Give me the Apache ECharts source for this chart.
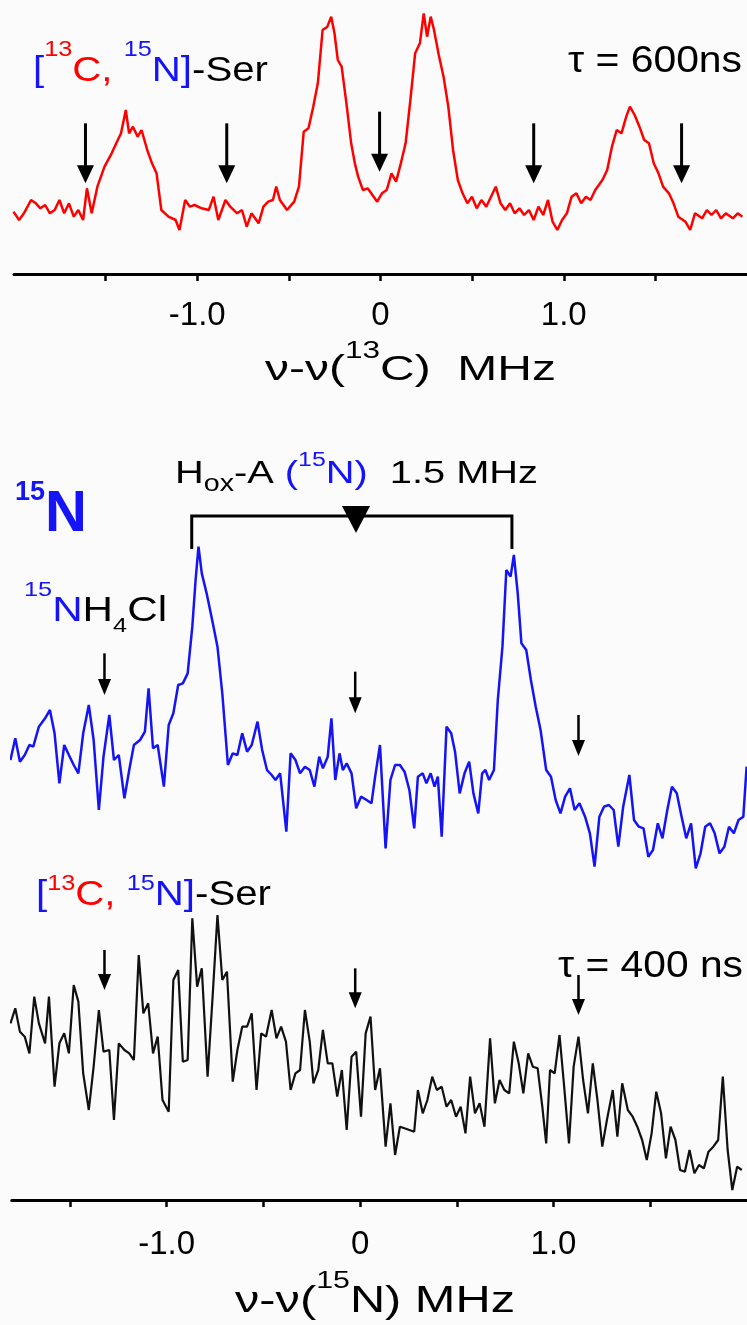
<!DOCTYPE html>
<html><head><meta charset="utf-8">
<script src="https://cdn.jsdelivr.net/npm/echarts@6/dist/echarts.min.js"></script>
<style>html,body{margin:0;padding:0;background:#fbfbfb}#c{width:747px;height:1325px}</style>
</head><body><div id="c"></div>
<script>
// ---- Data (frequency offset in MHz, intensity in arbitrary units) ----
const redX = [-2.003,-1.972,-1.946,-1.907,-1.881,-1.856,-1.830,-1.804,-1.778,-1.752,-1.726,-1.700,-1.674,-1.649,-1.623,-1.602,-1.576,-1.545,-1.506,-1.467,-1.442,-1.416,-1.390,-1.372,-1.351,-1.325,-1.304,-1.273,-1.247,-1.222,-1.196,-1.157,-1.118,-1.097,-1.066,-1.040,-1.015,-0.976,-0.937,-0.911,-0.885,-0.846,-0.820,-0.782,-0.756,-0.730,-0.704,-0.665,-0.639,-0.613,-0.587,-0.569,-0.549,-0.510,-0.471,-0.445,-0.419,-0.393,-0.367,-0.342,-0.316,-0.290,-0.269,-0.251,-0.233,-0.212,-0.186,-0.160,-0.140,-0.122,-0.096,-0.070,-0.044,-0.018,0.008,0.034,0.060,0.085,0.111,0.137,0.163,0.189,0.215,0.236,0.254,0.274,0.292,0.318,0.344,0.370,0.396,0.422,0.448,0.474,0.499,0.525,0.551,0.577,0.603,0.629,0.655,0.681,0.707,0.732,0.758,0.784,0.810,0.836,0.862,0.888,0.914,0.939,0.965,0.991,1.017,1.043,1.069,1.095,1.121,1.146,1.172,1.211,1.237,1.263,1.289,1.315,1.341,1.361,1.387,1.413,1.439,1.465,1.491,1.517,1.542,1.574,1.599,1.625,1.664,1.690,1.716,1.755,1.781,1.806,1.832,1.858,1.884,1.923,1.949,1.975];
const redY = [26.5,24,26,30,29,27.5,28.5,26,27,30,26,29,25,27,24,33.5,26,34,40,44,47,50,57,50,52,49,51,45,41,38,27,25,24,21,30,28,28.5,27.5,27,31,24,30,28,26,27,22,26,23,28,29.5,30,34,30,27,29.5,34,50.5,51.5,58,65,81,82,85,80,72,70,59,47,41,37,33,33.5,31.5,29.5,32,33,38,35.5,41,47,60,74,77,86,79,85,81,73.5,67,58,45,36,32,29,31,27.5,30,28,31,34,29,27,29,26,27.5,25.5,27,24,28,25.5,30,23.5,21,24,26,31,32,29,31,30,33,36,39,46,51,50,55,58,55.5,52,48,47,41,38,34,32,29,25,23.5,21,26,24.5,27,25.5,27,24.5,26,24.5,26,25];

const blueX = [-1.807,-1.782,-1.758,-1.733,-1.709,-1.689,-1.660,-1.628,-1.603,-1.579,-1.554,-1.529,-1.505,-1.480,-1.456,-1.431,-1.402,-1.377,-1.350,-1.326,-1.296,-1.272,-1.247,-1.218,-1.193,-1.169,-1.137,-1.112,-1.093,-1.070,-1.046,-1.014,-0.989,-0.965,-0.940,-0.916,-0.891,-0.867,-0.850,-0.835,-0.818,-0.793,-0.761,-0.737,-0.712,-0.683,-0.658,-0.634,-0.609,-0.584,-0.560,-0.530,-0.506,-0.481,-0.457,-0.437,-0.413,-0.381,-0.359,-0.334,-0.310,-0.285,-0.260,-0.236,-0.211,-0.192,-0.167,-0.148,-0.128,-0.106,-0.089,-0.069,-0.044,-0.020,0.005,0.034,0.059,0.078,0.103,0.132,0.157,0.181,0.206,0.230,0.255,0.280,0.299,0.324,0.343,0.365,0.385,0.402,0.422,0.447,0.471,0.491,0.515,0.540,0.564,0.586,0.611,0.631,0.648,0.667,0.692,0.712,0.736,0.756,0.778,0.795,0.815,0.834,0.859,0.883,0.908,0.933,0.962,0.987,1.011,1.036,1.060,1.085,1.109,1.134,1.163,1.188,1.212,1.237,1.261,1.286,1.311,1.335,1.360,1.392,1.416,1.441,1.465,1.490,1.514,1.539,1.563,1.588,1.612,1.637,1.662,1.686,1.711,1.735,1.760,1.784,1.809,1.833,1.858,1.883,1.907,1.932,1.956,1.981,1.998];
const blueY = [44,50.5,43.5,45.5,48.5,48,54,56.5,59,52,37,48.5,45.5,42.5,40,52,60.5,50,29,45,57.5,44,45.5,32.5,41,48.5,50,52.5,65.5,47.5,48.5,36,54.5,58,66.5,67,70,84,98,108,100,94,85,78,64,42.5,46,45.5,52,46.5,48.5,55.5,47,41,39.5,38,40,22.5,46,44,40,42,41,36,45,41.5,45,56.5,38,46,41,43,40,29.5,33,32,31,39,48.5,17.5,38,42.5,42.5,40.5,35,23.5,39,40,37,40,36,39,21,54,52,46.5,34,40,43.5,34,28,40,41,38,41,62,78,101,99,105.5,94,79,77,68,60,53,41,39,32,28,33,35.5,29,31,27,22,12,27,30,30.5,29,18,30,39.5,26,24,23.5,15,17,25,20.5,29,36,34,27,20.5,25,11.5,16,24,25,22,16,18,24,22,26,27,42];

const blackX = [-1.807,-1.782,-1.758,-1.733,-1.709,-1.684,-1.660,-1.628,-1.608,-1.579,-1.554,-1.529,-1.505,-1.480,-1.456,-1.431,-1.402,-1.377,-1.350,-1.326,-1.296,-1.272,-1.247,-1.218,-1.193,-1.169,-1.144,-1.120,-1.095,-1.070,-1.046,-1.021,-0.989,-0.965,-0.940,-0.916,-0.891,-0.867,-0.842,-0.818,-0.788,-0.761,-0.737,-0.712,-0.688,-0.658,-0.634,-0.609,-0.584,-0.560,-0.535,-0.511,-0.486,-0.457,-0.432,-0.408,-0.383,-0.359,-0.334,-0.310,-0.285,-0.260,-0.241,-0.216,-0.192,-0.167,-0.143,-0.118,-0.094,-0.069,-0.044,-0.020,0.005,0.029,0.054,0.078,0.103,0.132,0.157,0.181,0.206,0.230,0.255,0.280,0.299,0.324,0.348,0.373,0.397,0.422,0.447,0.471,0.496,0.520,0.545,0.569,0.594,0.618,0.643,0.672,0.697,0.721,0.746,0.771,0.795,0.820,0.844,0.869,0.893,0.918,0.942,0.962,0.982,1.006,1.031,1.055,1.080,1.104,1.129,1.153,1.178,1.203,1.227,1.252,1.276,1.306,1.330,1.355,1.384,1.409,1.433,1.458,1.482,1.507,1.531,1.556,1.581,1.605,1.630,1.654,1.679,1.703,1.728,1.752,1.777,1.801,1.826,1.851,1.875,1.900,1.924,1.949,1.973];
const blackY = [61,65.5,58.5,57,52,69,61,55,69,42,55,58,52,72.5,67.5,46,35,48,65,52.5,53,32,55,53,52,50,81.5,64,67,52,57,38,34.5,74,77,49.5,50,92.5,72,77.5,45,70,93.5,74,76.5,43.5,53,60,60,64,41,58,57,65,56.5,60,55.5,41,46,47,65,55.5,43,47,59,49,49,39,47,29,51,52.5,33,58,63,41,47.5,24,37,21.5,30,29.5,29,28.5,41,34,38,45,41,42,36,38,33,36,28,45,34,37,30,56.5,37,44,41,40,55.5,49,40,52,48,47.5,36,25,47,46,57.5,42,25,48,57,44,34,49,38,24,32,41,27,43,35,33,30,26,20,28,40.5,34,20.5,30,26,17,16.5,23,16,18.5,17.5,22.5,24,26,45,23,11,18,17];

// axis ticks / labels (MHz)
const tickValues = [-1.5, -1.0, -0.5, 0, 0.5, 1.0, 1.5];
const tickLabelValues = [-1.0, 0, 1.0];

// arrow annotations: [x (MHz), intensity at tail, intensity at tip]
const arrowsTop = [[-1.61,53,35],[-0.839,53,35],[-0.005,56.5,38.5],[0.836,53,35],[1.643,53,35]];
const arrowsMid = [[-1.321,76,63.5],[-0.025,70.5,58],[1.129,57.5,45.2]];
const arrowsBot = [[-1.321,83,71],[-0.025,77.5,65.5],[1.129,75.5,63.5]];
// hyperfine bracket (MHz / intensity)
const bracketX = [-0.87, 0.785];
const bracketY = [117.2, 107.3];
const bracketMark = [-0.021, 120.2, 112.1];

// ---- helpers ----
const FONT = '"Liberation Sans", Arial, sans-serif';
const RED = '#ff0000', BLUE = '#1414f5', BLK = '#000000';
const pts = (xs, ys) => xs.map((x, i) => [x, ys[i]]);
const mctx = document.createElement('canvas').getContext('2d');
const fontStr = f => (f.bold ? 'bold ' : '') + f.size + 'px ' + FONT;
function textRun(x0, baseline, frags, targetW) {
  let w = 0;
  frags.forEach(f => { mctx.font = fontStr(f); f.w = mctx.measureText(f.t).width; w += f.w; });
  const s = targetW ? targetW / w : 1;
  const children = []; let x = 0;
  frags.forEach(f => {
    children.push({type: 'text', x: x, y: (f.dy || 0) - 0.3465 * f.size, silent: true,
      style: {text: f.t, font: fontStr(f), fill: f.c || BLK, textAlign: 'left', textVerticalAlign: 'middle', verticalAlign: 'middle'}});
    x += f.w;
  });
  return {type: 'group', x: x0, y: baseline, scaleX: s, silent: true, children};
}
function arrowSeries(idx, data, hw, hh, lw) {
  return {type: 'custom', xAxisIndex: idx, yAxisIndex: idx, data: data, encode: {x: 0, y: [1, 2]},
    silent: true, clip: false, z: 5,
    renderItem(params, api) {
      const a = api.coord([api.value(0), api.value(1)]);
      const b = api.coord([api.value(0), api.value(2)]);
      return {type: 'group', children: [
        {type: 'line', shape: {x1: a[0], y1: a[1], x2: b[0], y2: b[1] - hh + 2}, style: {stroke: BLK, lineWidth: lw}},
        {type: 'polygon', shape: {points: [[b[0] - hw / 2, b[1] - hh], [b[0] + hw / 2, b[1] - hh], [b[0], b[1]]]}, style: {fill: BLK}}
      ]};
    }};
}
const labelFmt = v => (Math.abs(v) < 1e-9 ? '0' : v.toFixed(1));
function visAxis(grid, min, max, margin) {
  return {gridIndex: grid, type: 'value', min: min, max: max,
    axisLine: {onZero: false, lineStyle: {color: BLK, width: 3}},
    axisTick: {show: true, customValues: tickValues, length: 7, lineStyle: {color: BLK, width: 2.5}},
    axisLabel: {customValues: tickLabelValues, formatter: labelFmt, fontSize: 33, color: BLK, fontFamily: FONT, margin: margin},
    splitLine: {show: false}};
}

const chart = echarts.init(document.getElementById('c'), null, {renderer: 'canvas'});
chart.setOption({
  backgroundColor: '#fbfbfb',
  animation: false,
  grid: [
    {left: 14, top: 0, width: 736, height: 274},
    {left: 11.8, top: 440, width: 737.2, height: 440},
    {left: 11.8, top: 880, width: 737.2, height: 320}
  ],
  xAxis: [
    visAxis(0, -2, 2, 25),
    {gridIndex: 1, type: 'value', min: -1.8, max: 2, show: false},
    visAxis(2, -1.8, 2, 28)
  ],
  yAxis: [
    {gridIndex: 0, type: 'value', min: 7.8, max: 90, show: false},
    {gridIndex: 1, type: 'value', min: 8, max: 140, show: false},
    {gridIndex: 2, type: 'value', min: 8, max: 104, show: false}
  ],
  series: [
    {type: 'line', xAxisIndex: 0, yAxisIndex: 0, data: pts(redX, redY), showSymbol: false, symbol: 'none', silent: true,
      lineStyle: {color: RED, width: 2.5}},
    {type: 'line', xAxisIndex: 1, yAxisIndex: 1, data: pts(blueX, blueY), showSymbol: false, symbol: 'none', silent: true,
      lineStyle: {color: BLUE, width: 2.5}},
    {type: 'line', xAxisIndex: 2, yAxisIndex: 2, data: pts(blackX, blackY), showSymbol: false, symbol: 'none', silent: true,
      lineStyle: {color: '#111111', width: 2.2}},
    arrowSeries(0, arrowsTop, 17, 18, 3),
    arrowSeries(1, arrowsMid, 13, 16, 2.5),
    arrowSeries(2, arrowsBot, 13, 16, 2.5),
    {type: 'custom', xAxisIndex: 1, yAxisIndex: 1, data: [[bracketX[0], bracketX[1], bracketY[0], bracketY[1]]],
      encode: {x: [0, 1], y: [2, 3]}, silent: true, clip: false, z: 5,
      renderItem(params, api) {
        const l = api.coord([api.value(0), api.value(2)]);
        const r = api.coord([api.value(1), api.value(2)]);
        const lb = api.coord([api.value(0), api.value(3)]);
        const rb = api.coord([api.value(1), api.value(3)]);
        const t0 = api.coord([bracketMark[0], bracketMark[1]]);
        const t1 = api.coord([bracketMark[0], bracketMark[2]]);
        const hw = 14;
        return {type: 'group', children: [
          {type: 'polyline', shape: {points: [[lb[0], lb[1]], [l[0], l[1]], [r[0], r[1]], [rb[0], rb[1]]]},
            style: {stroke: BLK, lineWidth: 3, fill: null}},
          {type: 'polygon', shape: {points: [[t0[0] - hw, t0[1]], [t0[0] + hw, t0[1]], [t1[0], t1[1]]]}, style: {fill: BLK}}
        ]};
      }}
  ],
  graphic: [
    textRun(33, 83, [{t: '[', size: 35, c: BLUE}, {t: '13', size: 22, c: RED, dy: -25}, {t: 'C,', size: 35, c: RED},
      {t: ' ', size: 35}, {t: '15', size: 22, c: BLUE, dy: -25}, {t: 'N]', size: 35, c: BLUE}, {t: '-Ser', size: 35, c: BLK}], 235),
    textRun(568, 75, [{t: '\u03c4 = 600ns', size: 37}], 174),
    textRun(265, 382, [{t: '\u03bd-\u03bd(', size: 35}, {t: '13', size: 23, dy: -22}, {t: 'C)  MHz', size: 35}], 291),
    textRun(15, 535, [{t: '15', size: 27, bold: true, c: BLUE, dy: -33}, {t: 'N', size: 58, bold: true, c: BLUE}]),
    textRun(175, 485, [{t: 'H', size: 32}, {t: 'ox', size: 23, dy: 8}, {t: '-A ', size: 32}, {t: '(', size: 32, c: BLUE},
      {t: '15', size: 20, c: BLUE, dy: -18}, {t: 'N)', size: 32, c: BLUE}, {t: '  1.5 MHz', size: 32}], 363),
    textRun(24, 623, [{t: '15', size: 21, c: BLUE, dy: -26}, {t: 'N', size: 35, c: BLUE}, {t: 'H', size: 35},
      {t: '4', size: 21, dy: 10}, {t: 'Cl', size: 35}], 143),
    textRun(36, 907, [{t: '[', size: 35, c: BLUE}, {t: '13', size: 22, c: RED, dy: -15}, {t: 'C,', size: 35, c: RED},
      {t: ' ', size: 35}, {t: '15', size: 22, c: BLUE, dy: -15}, {t: 'N]', size: 35, c: BLUE}, {t: '-Ser', size: 35, c: BLK}], 235),
    textRun(558, 980, [{t: '\u03c4 = 400 ns', size: 37}], 185),
    textRun(235, 1315, [{t: '\u03bd-\u03bd(', size: 37}, {t: '15', size: 23, dy: -25}, {t: 'N) MHz', size: 37}], 280)
  ]
});
</script></body></html>
